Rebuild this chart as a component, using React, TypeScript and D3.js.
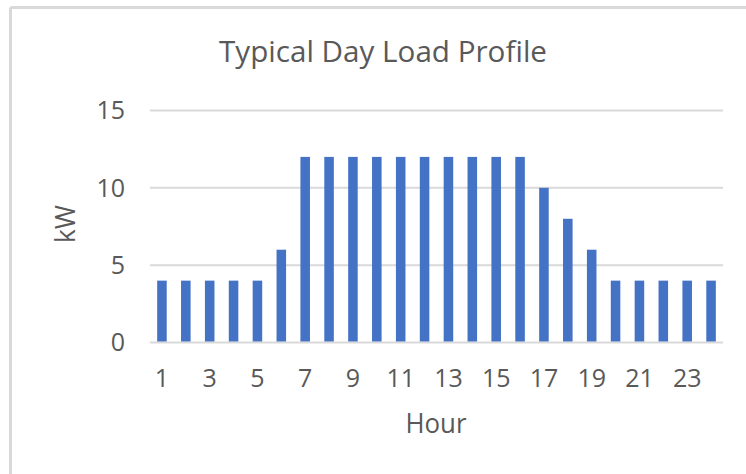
import React from "react";
import * as d3 from "d3";

const hours: number[] = Array.from({ length: 24 }, (_, i) => i + 1);
const loadKW: number[] = [4, 4, 4, 4, 4, 6, 12, 12, 12, 12, 12, 12, 12, 12, 12, 12, 10, 8, 6, 4, 4, 4, 4, 4];
const yTicks: number[] = [0, 5, 10, 15];
const xTickLabels: number[] = [1, 3, 5, 7, 9, 11, 13, 15, 17, 19, 21, 23];
const title = "Typical Day Load Profile";
const xTitle = "Hour";
const yTitle = "kW";

const W = 746;
const H = 474;
const plot = { left: 150, right: 723, top: 110.5, bottom: 342.5 };
const FONT = "'Open Sans', 'Noto Sans', sans-serif";
const TEXT = "#595959";
const GRID = "#d9d9d9";
const BAR = "#4472C4";

export default function App() {
  const x = d3
    .scaleBand<number>()
    .domain(hours)
    .range([plot.left, plot.right])
    .paddingInner(0.6)
    .paddingOuter(0.3);
  const y = d3.scaleLinear().domain([0, 15]).range([plot.bottom, plot.top]);

  return (
    <svg
      width={W}
      height={H}
      style={{ position: "absolute", left: 0, top: 0, background: "#fff" }}
      fontFamily={FONT}
    >
      <rect x={0} y={0} width={W} height={H} fill="#fff" />
      {/* chart border */}
      <line x1={10.5} x2={W} y1={7.5} y2={7.5} stroke={GRID} strokeWidth={3} />
      <line x1={10.5} x2={10.5} y1={7.5} y2={H} stroke={GRID} strokeWidth={3} />

      {/* title */}
      <text
        x={383}
        y={62}
        textAnchor="middle"
        fontSize={29}
        fill={TEXT}
        textLength={328}
        lengthAdjust="spacingAndGlyphs"
      >
        {title}
      </text>

      {/* gridlines */}
      {yTicks.map((t) => (
        <line
          key={"g" + t}
          x1={plot.left}
          x2={plot.right}
          y1={y(t)}
          y2={y(t)}
          stroke={GRID}
          strokeWidth={2}
        />
      ))}

      {/* y tick labels */}
      {yTicks.map((t) => (
        <text
          key={"yl" + t}
          x={125}
          y={y(t)}
          dy="0.35em"
          textAnchor="end"
          fontSize={25}
          fill={TEXT}
        >
          {t}
        </text>
      ))}

      {/* bars */}
      {hours.map((h, i) => (
        <rect
          key={"b" + h}
          x={x(h)!}
          width={x.bandwidth()}
          y={y(loadKW[i])}
          height={y(0) - y(loadKW[i]) - 1}
          fill={BAR}
        />
      ))}

      {/* x tick labels */}
      {xTickLabels.map((h) => (
        <text
          key={"xl" + h}
          x={x(h)! + x.bandwidth() / 2}
          y={387}
          textAnchor="middle"
          fontSize={25}
          fill={TEXT}
        >
          {h}
        </text>
      ))}

      {/* axis titles */}
      <text
        x={436}
        y={433}
        textAnchor="middle"
        fontSize={28}
        fill={TEXT}
        textLength={61}
        lengthAdjust="spacingAndGlyphs"
      >
        {xTitle}
      </text>
      <text
        transform="translate(75,224) rotate(-90)"
        textAnchor="middle"
        fontSize={27}
        fill={TEXT}
        textLength={38}
        lengthAdjust="spacingAndGlyphs"
      >
        {yTitle}
      </text>
    </svg>
  );
}
